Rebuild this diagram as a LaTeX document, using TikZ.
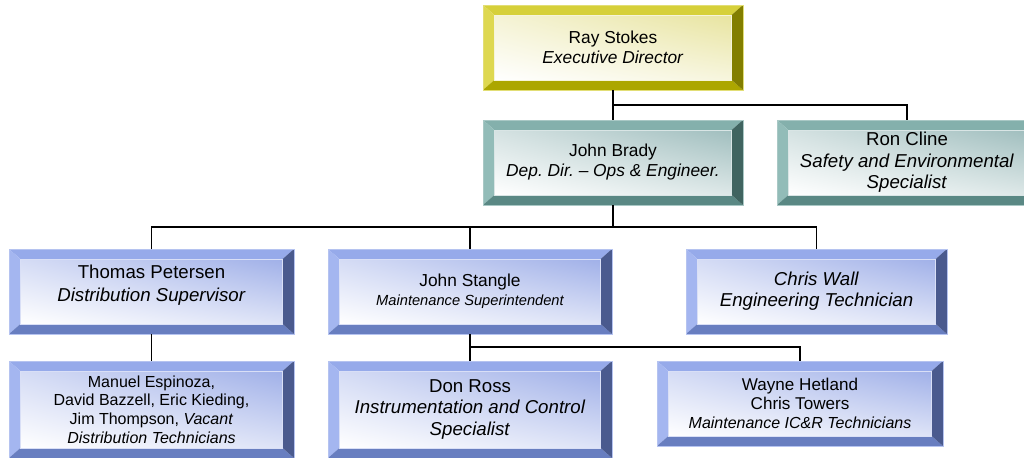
\documentclass[tikz,border=0pt]{standalone}
\usepackage{fontspec}
\setmainfont{Liberation Sans}
\frenchspacing
\usetikzlibrary{calc, shadings}

\definecolor{yelTop}{RGB}{214,208,58}
\definecolor{yelLeft}{RGB}{222,216,80}
\definecolor{yelBot}{RGB}{172,166,0}
\definecolor{yelRight}{RGB}{130,126,0}
\definecolor{yelFace}{RGB}{232,228,160}
\definecolor{tealTop}{RGB}{132,176,172}
\definecolor{tealLeft}{RGB}{146,188,184}
\definecolor{tealBot}{RGB}{90,136,132}
\definecolor{tealRight}{RGB}{64,100,96}
\definecolor{tealFace}{RGB}{160,190,190}
\definecolor{bluTop}{RGB}{150,170,234}
\definecolor{bluLeft}{RGB}{164,182,240}
\definecolor{bluBot}{RGB}{104,126,192}
\definecolor{bluRight}{RGB}{74,90,142}
\definecolor{bluFace}{RGB}{160,176,232}

\tikzset{
  bevel/.style n args={5}{rectangle, inner sep=0pt, outer sep=0pt, align=center,
    draw=#1!70!white, line width=0.4pt,
    path picture={
      \coordinate (o1) at (path picture bounding box.north west);
      \coordinate (o2) at (path picture bounding box.north east);
      \coordinate (o3) at (path picture bounding box.south east);
      \coordinate (o4) at (path picture bounding box.south west);
      \coordinate (i1) at ($(o1)+(8.5pt,-7.5pt)$);
      \coordinate (i2) at ($(o2)+(-8.5pt,-7.5pt)$);
      \coordinate (i3) at ($(o3)+(-8.5pt,7.5pt)$);
      \coordinate (i4) at ($(o4)+(8.5pt,7.5pt)$);
      \fill[#1] (o1) -- (o2) -- (i2) -- (i1) -- cycle;
      \fill[#2] (o1) -- (i1) -- (i4) -- (o4) -- cycle;
      \fill[#3] (o4) -- (i4) -- (i3) -- (o3) -- cycle;
      \fill[#4] (o2) -- (o3) -- (i3) -- (i2) -- cycle;
      \shade[upper left=#5!45!white, upper right=#5, lower left=white, lower right=#5!35!white]
        (i1) rectangle (i3);
      \draw[white!60!#5, line width=0.4pt] (i1) rectangle (i3);
    }},
  yelbox/.style={bevel={yelTop}{yelLeft}{yelBot}{yelRight}{yelFace}},
  tealbox/.style={bevel={tealTop}{tealLeft}{tealBot}{tealRight}{tealFace}},
  blubox/.style={bevel={bluTop}{bluLeft}{bluBot}{bluRight}{bluFace}},
  sz/.style 2 args={minimum width=#1*0.75pt, minimum height=#2*0.75pt},
  link/.style={draw=black, line width=1.1pt}
}

\begin{document}
\begin{tikzpicture}[x=0.75pt, y=-0.75pt]
  \useasboundingbox (0,0) rectangle (1024,457);
  \clip (0,0) rectangle (1024,457);

  % top
  \node[yelbox, sz={260}{85}, font=\fontsize{13}{15}\selectfont] (ray) at (613,47.5)
    {Ray Stokes\\ \textit{Executive Director}};

  % second row
  \node[tealbox, sz={260}{85}, font=\fontsize{13}{15}\selectfont] (brady) at (613,162.5)
    {John Brady\\ \textit{Dep. Dir. – Ops \& Engineer.}};
  \node[tealbox, sz={260}{85}, font=\fontsize{14}{16}\selectfont] (ron) at (907,162.5)
    {Ron Cline\\ \textit{Safety and Environmental}\\ \textit{Specialist}};

  % third row
  \node[blubox, sz={285}{85}, font=\fontsize{14}{17}\selectfont] (thomas) at (151.5,291.5)
    {Thomas Petersen\\ \textit{Distribution Supervisor}\rule[-12pt]{0pt}{12pt}};
  \node[blubox, sz={284}{85}, font=\fontsize{13}{14.5}\selectfont] (stangle) at (470,291.5)
    {John Stangle\\ {\fontsize{11}{14}\selectfont\itshape Maintenance Superintendent}};
  \node[blubox, sz={261}{85}, font=\fontsize{14}{16}\selectfont] (wall) at (816.5,291.5)
    {\textit{Chris Wall}\\ \textit{Engineering Technician}};

  % bottom row
  \node[blubox, sz={285}{97}, font=\fontsize{12}{14}\selectfont] (manuel) at (151.5,409.5)
    {Manuel Espinoza,\\ David Bazzell, Eric Kieding,\\ Jim Thompson, \textit{Vacant}\\ \textit{Distribution Technicians}};
  \node[blubox, sz={284}{97}, font=\fontsize{14}{16}\selectfont] (ross) at (470,409.5)
    {Don Ross\\ \textit{Instrumentation and Control}\\ \textit{Specialist}};
  \node[blubox, sz={286}{85}, font=\fontsize{12.8}{14.3}\selectfont] (wayne) at (800,403.5)
    {Wayne Hetland\\ Chris Towers\\ {\fontsize{12}{14}\selectfont\itshape Maintenance IC\&R Technicians}};

  % connectors
  \draw[link] (ray) -- (brady);
  \draw[link] (ray.south) -- ++(0,15) -| (ron.north);
  \draw[link] (brady.south) -- ++(0,22) coordinate (bus);
  \draw[link] (thomas.north) |- (bus) -| (wall.north);
  \draw[link] (stangle.north) -- (stangle.north |- bus);
  \draw[link] (thomas) -- (manuel);
  \draw[link] (stangle) -- (ross);
  \draw[link] (stangle.south) -- ++(0,13) -| (wayne.north);
\end{tikzpicture}
\end{document}
